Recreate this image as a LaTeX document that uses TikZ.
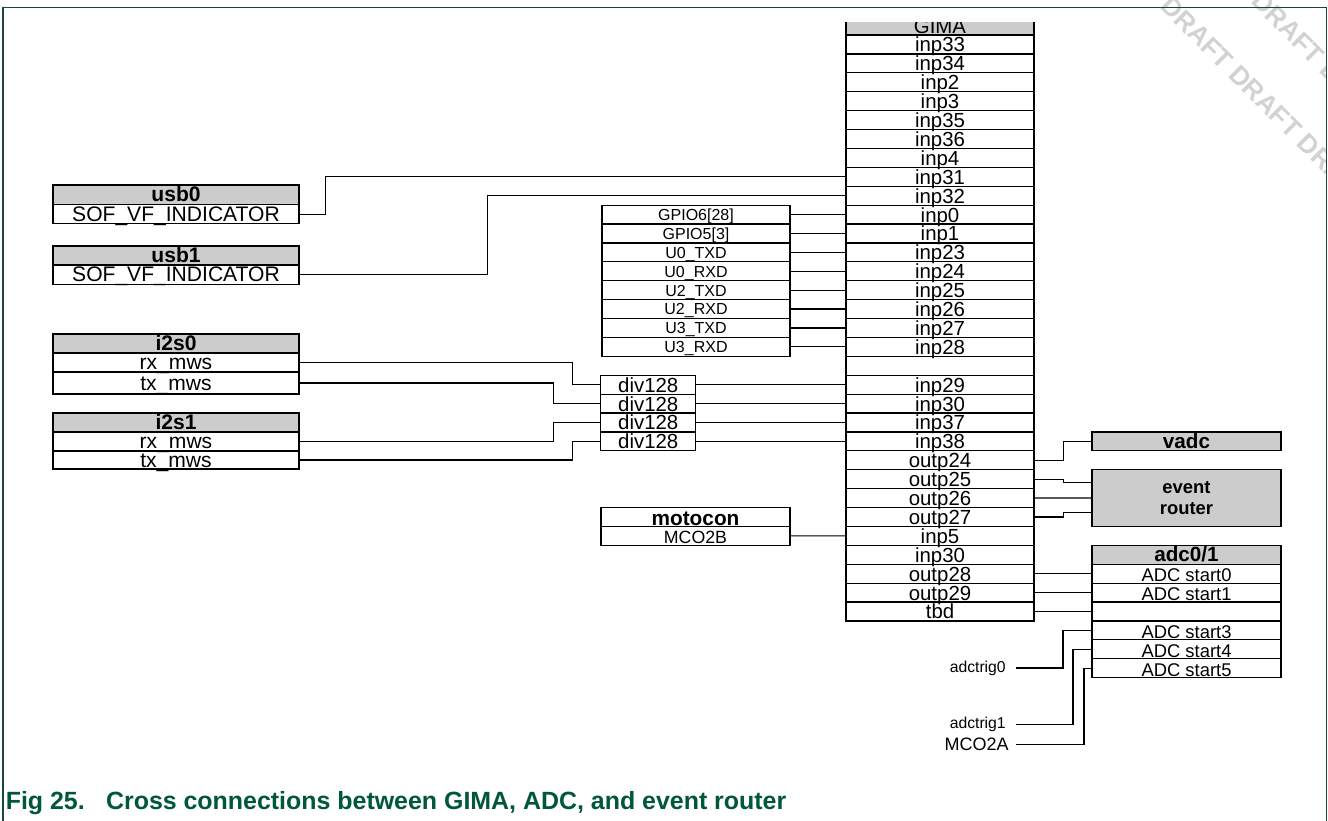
\documentclass[tikz,border=0pt]{standalone}
\usepackage{fontspec}
\setmainfont{Liberation Sans}
\usetikzlibrary{calc}
\definecolor{hdrgray}{RGB}{204,204,204}
\definecolor{nxpgreen}{RGB}{0,87,62}
\definecolor{framegreen}{RGB}{22,72,58}
\definecolor{wmgray}{RGB}{210,210,210}
\newcommand\fsz[1]{\fontsize{#1}{#1}\selectfont}
\tikzset{
 cellbase/.style={draw=black, line width=0.9pt, inner sep=0pt, text depth=0pt},
 gcell/.style={cellbase, minimum width=141pt, minimum height=14.175pt, text height=11.2pt, font=\fsz{15.3}},
 ghead/.style={gcell, fill=hdrgray},
 pcell/.style={cellbase, minimum width=141pt, minimum height=14.175pt, text height=8.8pt, font=\fsz{12}},
 dcell/.style={cellbase, minimum width=71.25pt, minimum height=14.175pt, text height=11.2pt, font=\fsz{15.3}},
 lcell/.style={cellbase, minimum width=184.5pt, minimum height=14.4pt, text height=11pt, font=\fsz{15.8}},
 lhead/.style={lcell, fill=hdrgray, font=\fsz{15.8}\bfseries},
 rcell/.style={cellbase, minimum width=141.75pt, minimum height=14.175pt, text height=12.1pt, font=\fsz{13.8}},
 rhead/.style={cellbase, fill=hdrgray, minimum width=141.75pt, minimum height=14.175pt, text height=10.4pt, font=\fsz{15.5}\bfseries},
 mhead/.style={cellbase, minimum width=141.75pt, minimum height=14.175pt, text height=12.1pt, font=\fsz{15.6}\bfseries},
 mcell/.style={cellbase, minimum width=141.75pt, minimum height=14.175pt, text height=11.2pt, font=\fsz{13.3}},
 erbox/.style={draw=black, line width=0.9pt, fill=hdrgray, minimum width=141.75pt, minimum height=42.5pt, align=center, inner sep=0pt, font=\fontsize{13.8}{16}\selectfont\bfseries},
 wire/.style={draw=black, line width=0.9pt},
 lbl/.style={inner ysep=0pt, inner xsep=7.5pt, font=\fsz{11.8}},
 lbltwo/.style={inner ysep=0pt, inner xsep=5.25pt, font=\fsz{13.5}},
 wm/.style={text=wmgray, font=\fsz{19.8}\bfseries, inner sep=0pt},
 captext/.style={text=nxpgreen, font=\fsz{18.7}\bfseries, inner sep=0pt},
}
\begin{document}
\begin{tikzpicture}[x=0.75pt, y=-0.75pt]
\useasboundingbox (0,0) rectangle (1328,821);
% watermark
\begin{scope}
\clip (0,0) rectangle (1326,821);
\node[wm, rotate=-45, anchor=west] (wmA) at (1165.3,1.3) {DRAFT DRAFT DRAFT};
\node[wm, rotate=-45, anchor=west] (wmB) at (1256.3,-3.7) {DRAFT DRAFT};
\end{scope}
% frame
\draw[framegreen, line width=1pt] (3,821) -- (3,7.3) -- (1326.7,7.3) -- (1326.7,821);
% GIMA
\begin{scope}
\clip (800,22.7) rectangle (1100,60);
\node[ghead] (gh) at (940,25.55) {GIMA};
\end{scope}
\foreach \t [count=\i from 0] in {inp33,inp34,inp2,inp3,inp35,inp36,inp4,inp31,inp32,inp0,inp1,inp23,inp24,inp25,inp26,inp27,inp28,{},inp29,inp30,inp37,inp38,outp24,outp25,outp26,outp27,inp5,inp30,outp28,outp29,tbd}{
  \pgfmathsetmacro\yy{44.45+18.9*\i}
  \node[gcell] (g\i) at (940,\yy) {\t};
}
% GPIO list
\foreach \t [count=\i from 9] in {{GPIO6[28]},{GPIO5[3]},U0\_TXD,U0\_RXD,U2\_TXD,U2\_RXD,U3\_TXD,U3\_RXD}{
  \pgfmathsetmacro\yy{44.45+18.9*\i}
  \node[pcell] (p\i) at (696,\yy) {\t};
}
% div128
\foreach \i in {18,...,21}{
  \pgfmathsetmacro\yy{44.45+18.9*\i}
  \node[dcell] (d\i) at (648.25,\yy) {div128};
}
% left blocks
\node[lhead] (u0h) at (176,194.65) {usb0};
\node[lcell] (u0s) at (176,214.15) {SOF\_VF\_INDICATOR};
\node[lhead] (u1h) at (176,255.5) {usb1};
\node[lcell] (u1s) at (176,274.5) {SOF\_VF\_INDICATOR};
\node[lhead] (i0h) at (176,343.5) {i2s0};
\node[lcell] (i0r) at (176,362.5) {rx\_mws};
\node[lcell, minimum height=16.5pt] (i0t) at (176,383) {tx\_mws};
\node[lhead] (i1h) at (176,422.5) {i2s1};
\node[lcell] (i1r) at (176,441.5) {rx\_mws};
\node[lcell, minimum height=13.5pt] (i1t) at (176,460) {tx\_mws};
% motocon
\node[mhead] (moh) at (695.5,516.95) {motocon};
\node[mcell] (mco) at (695.5,535.85) {MCO2B};
% right blocks
\node[rhead] (vadc) at (1186.5,441.35) {vadc};
\node[erbox] (er) at (1186.5,498.05) {event\\router};
\node[rhead] (a27) at (1186.5,554.75) {adc0/1};
\foreach \t [count=\i from 28] in {ADC start0,ADC start1,{},ADC start3,ADC start4,ADC start5}{
  \pgfmathsetmacro\yy{44.45+18.9*\i}
  \node[rcell] (a\i) at (1186.5,\yy) {\t};
}
% trigger labels
\node[lbl, anchor=east] (t0) at (1016,668) {adctrig0};
\node[lbl, anchor=east] (t1) at (1016,724.3) {adctrig1};
\node[lbltwo, anchor=east] (t2) at (1016,744.3) {MCO2A};
% connectors
\draw[wire] (u0s.east) -- ++(26,0) |- (g7.west);
\draw[wire] (u1s.east) -- ++(188,0) |- (g8.west);
\foreach \r in {9,...,16} \draw[wire] (p\r.east) -- (g\r.west);
\foreach \r in {18,...,21} \draw[wire] (d\r.east) -- (g\r.west);
\draw[wire] (i0r.east) -- ++(273,0) |- (d18.west);
\draw[wire] (i0t.east) -- ++(254,0) |- (d19.west);
\draw[wire] (i1r.east) -- ++(254,0) |- (d20.west);
\draw[wire] (i1t.east) -- ++(273,0) |- (d21.west);
\draw[wire] (g22.east) -- ++(29,0) |- (vadc.west);
\draw[wire] (g23.east) -- ++(29,0) |- ($(er.west)+(0,-15.7)$);
\draw[wire] (g24.east) -- (er.west);
\draw[wire] (g25.east) -- ++(29,0) |- ($(er.west)+(0,14.7)$);
\draw[wire] (mco.east) -- (g26.west);
\foreach \r in {28,29,30} \draw[wire] (g\r.east) -- (a\r.west);
\draw[wire] (t0.east) -- ++(47,0) |- (a31.west);
\draw[wire] (t1.east) -- ++(57,0) |- (a32.west);
\draw[wire] (t2.east) -- ++(68,0) |- (a33.west);
% caption
\node[captext, anchor=base west] (capA) at (5.5,809.5) {Fig 25.};
\node[captext, anchor=base west] (capB) at (105.8,809.5) {Cross connections between GIMA, ADC, and event router};
\end{tikzpicture}
\end{document}
